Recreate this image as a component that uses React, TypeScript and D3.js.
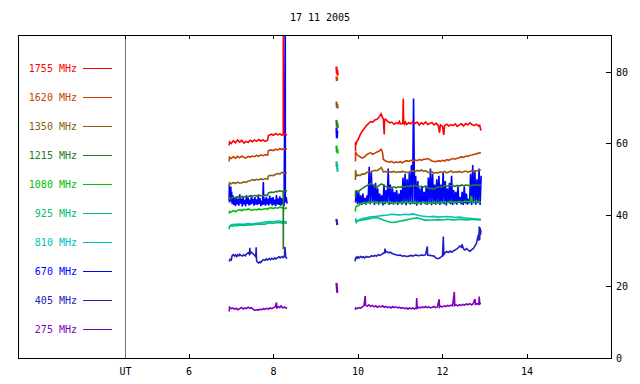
import React from "react";
import * as d3 from "d3";

type P = [number, number];

const title = "17 11 2005";
const freqLabels = ["1755 MHz", "1620 MHz", "1350 MHz", "1215 MHz", "1080 MHz", "925 MHz", "810 MHz", "670 MHz", "405 MHz", "275 MHz"];
const colors = ["#ff0000", "#c84000", "#8a6010", "#287a28", "#00c000", "#00c070", "#00c0c0", "#0000ff", "#2020c0", "#8000c0"];
const xTicks = [6, 8, 10, 12, 14];
const yTicks = [0, 20, 40, 60, 80];

const s1755: P[][] = [
  [[6.95,59.5],[6.96,60.5],[7.0,60.0],[7.05,60.8],[7.1,60.2],[7.15,61.0],[7.2,60.4],[7.25,60.9],[7.3,60.1],[7.35,60.6],[7.4,60.3],[7.45,60.9],[7.5,60.5],[7.55,61.0],[7.6,60.6],[7.65,61.1],[7.7,60.7],[7.75,61.0],[7.8,60.6],[7.86,60.9],[7.88,62.2],[7.95,62.6],[8.0,62.3],[8.05,62.8],[8.1,62.4],[8.15,62.7],[8.2,62.3],[8.23,62.5],[8.232,95],[8.235,62.5],[8.28,62.6],[8.32,62.4]],
  [[9.49,81.5],[9.50,79.5],[9.51,80.5],[9.52,79.0]],
  [[9.94,57.8],[9.942,60.5],[9.96,60.0],[9.98,60.8],[10.0,61.0],[10.05,62.4],[10.1,63.5],[10.15,64.2],[10.2,65.0],[10.25,65.6],[10.3,66.1],[10.35,66.0],[10.4,66.6],[10.45,66.8],[10.5,67.4],[10.55,68.3],[10.58,67.2],[10.6,67.0],[10.62,62.5],[10.63,66.5],[10.65,66.8],[10.7,66.2],[10.75,65.8],[10.8,66.0],[10.85,65.4],[10.9,65.8],[10.95,65.6],[10.98,66.2],[11.0,65.5],[11.06,65.6],[11.072,72.6],[11.08,65.8],[11.1,65.4],[11.12,66.0],[11.15,65.3],[11.2,65.8],[11.25,65.5],[11.3,66.2],[11.35,65.6],[11.4,66.0],[11.45,65.2],[11.5,65.8],[11.55,65.4],[11.6,66.0],[11.65,65.3],[11.7,65.6],[11.75,65.9],[11.8,65.2],[11.85,65.7],[11.9,65.0],[11.93,63.0],[11.95,65.2],[12.0,64.8],[12.03,62.4],[12.05,65.0],[12.1,65.4],[12.15,64.9],[12.2,65.3],[12.25,65.0],[12.3,65.5],[12.35,64.8],[12.4,65.2],[12.45,65.5],[12.5,64.9],[12.55,65.6],[12.6,65.2],[12.65,65.8],[12.7,65.3],[12.75,65.0],[12.8,65.4],[12.85,64.9],[12.88,65.1],[12.91,63.6]],
];

const s1620: P[][] = [
  [[6.95,55.0],[6.96,56.2],[7.0,55.8],[7.05,56.3],[7.1,55.9],[7.15,56.4],[7.2,56.0],[7.25,56.5],[7.3,56.1],[7.35,56.0],[7.4,56.4],[7.45,56.2],[7.5,56.5],[7.55,56.3],[7.6,56.7],[7.65,56.4],[7.7,56.8],[7.75,56.6],[7.8,56.9],[7.86,56.7],[7.88,58.0],[7.95,58.2],[8.0,58.0],[8.05,58.4],[8.1,58.2],[8.15,58.6],[8.2,58.3],[8.25,58.6],[8.32,58.5]],
  [[9.49,78.8],[9.50,77.5],[9.51,78.5]],
  [[9.94,55.0],[9.942,57.7],[9.96,57.2],[10.0,56.6],[10.05,56.3],[10.1,55.9],[10.15,56.2],[10.2,56.8],[10.25,57.2],[10.3,57.4],[10.35,57.0],[10.4,57.3],[10.45,57.6],[10.5,57.9],[10.55,58.4],[10.58,57.5],[10.6,55.6],[10.65,55.1],[10.7,54.9],[10.75,54.8],[10.8,55.0],[10.85,54.6],[10.9,54.8],[10.95,54.7],[11.0,54.9],[11.05,54.6],[11.1,55.0],[11.15,55.2],[11.2,55.0],[11.25,55.3],[11.3,55.1],[11.35,55.4],[11.4,55.2],[11.45,55.5],[11.5,55.3],[11.55,55.6],[11.6,55.6],[11.65,55.8],[11.7,55.5],[11.75,55.1],[11.8,55.0],[11.85,54.9],[11.9,55.2],[11.95,55.0],[12.0,55.3],[12.05,55.1],[12.1,55.5],[12.15,55.3],[12.2,55.6],[12.25,55.8],[12.3,55.6],[12.35,55.9],[12.4,56.0],[12.45,56.3],[12.5,56.1],[12.55,56.5],[12.6,56.4],[12.65,56.7],[12.7,56.8],[12.75,57.0],[12.8,57.1],[12.85,57.3],[12.91,57.4]],
];

const s1350: P[][] = [
  [[6.95,48.0],[6.96,49.0],[7.0,48.7],[7.05,49.1],[7.1,48.8],[7.15,49.2],[7.2,48.9],[7.25,49.0],[7.3,49.3],[7.35,49.1],[7.4,49.5],[7.45,49.6],[7.5,49.9],[7.55,49.7],[7.6,50.0],[7.65,49.8],[7.7,50.1],[7.75,49.9],[7.8,50.2],[7.86,50.0],[7.88,50.9],[7.95,51.1],[8.0,51.0],[8.05,51.4],[8.1,51.6],[8.15,51.5],[8.2,51.9],[8.25,51.7],[8.32,51.8]],
  [[9.49,71.7],[9.50,70.0],[9.51,71.0],[9.52,69.8]],
  [[9.94,49.8],[9.942,52.6],[9.96,50.9],[10.0,51.2],[10.05,51.0],[10.1,51.5],[10.15,51.4],[10.2,51.8],[10.25,52.1],[10.3,52.0],[10.35,52.3],[10.4,52.5],[10.45,52.4],[10.5,52.8],[10.55,53.3],[10.58,52.6],[10.6,52.0],[10.65,52.2],[10.7,51.9],[10.75,52.1],[10.8,52.0],[10.85,52.2],[10.9,51.9],[10.95,52.1],[11.0,52.0],[11.05,52.2],[11.1,52.1],[11.15,51.9],[11.2,52.0],[11.25,52.2],[11.3,52.4],[11.35,52.1],[11.4,52.5],[11.45,52.3],[11.5,52.6],[11.55,52.2],[11.6,52.4],[11.65,52.0],[11.7,51.8],[11.75,52.1],[11.8,51.7],[11.85,51.9],[11.9,51.8],[11.95,52.1],[12.0,51.9],[12.05,52.2],[12.1,51.8],[12.15,52.0],[12.2,52.3],[12.25,51.9],[12.3,52.1],[12.35,52.0],[12.4,52.2],[12.45,51.9],[12.5,52.1],[12.55,52.3],[12.6,52.0],[12.65,52.2],[12.7,52.4],[12.75,52.1],[12.8,52.3],[12.85,52.5],[12.91,52.6]],
];

const s1215: P[][] = [
  [[6.95,44.2],[6.96,44.9],[7.0,44.6],[7.05,45.0],[7.1,44.7],[7.15,45.1],[7.2,44.8],[7.25,45.2],[7.3,45.0],[7.35,45.3],[7.4,45.1],[7.45,45.4],[7.5,45.2],[7.55,45.5],[7.6,45.3],[7.65,45.6],[7.7,45.4],[7.75,45.3],[7.8,45.6],[7.86,45.5],[7.88,46.2],[7.95,46.4],[8.0,46.3],[8.05,46.6],[8.1,46.5],[8.15,46.8],[8.2,46.6],[8.23,46.7],[8.232,30.4],[8.235,46.6],[8.28,46.8],[8.32,46.7]],
  [[9.49,66.6],[9.50,64.5],[9.51,65.8],[9.52,64.3]],
  [[9.94,45.0],[9.942,46.5],[9.96,46.8],[10.0,46.4],[10.05,47.0],[10.1,47.4],[10.15,47.8],[10.2,48.2],[10.25,48.4],[10.3,48.8],[10.35,48.5],[10.4,48.0],[10.45,47.8],[10.5,48.3],[10.55,48.7],[10.6,48.4],[10.65,48.0],[10.7,47.8],[10.75,47.5],[10.8,47.7],[10.85,47.9],[10.9,47.6],[10.95,47.9],[11.0,47.7],[11.05,48.0],[11.1,47.8],[11.15,48.1],[11.2,47.9],[11.25,48.2],[11.3,48.0],[11.35,48.3],[11.4,48.1],[11.45,47.9],[11.5,48.0],[11.55,47.8],[11.6,48.1],[11.65,47.6],[11.7,47.3],[11.75,47.5],[11.8,47.2],[11.85,47.6],[11.9,47.9],[11.95,47.7],[12.0,48.0],[12.05,48.2],[12.1,48.0],[12.15,48.3],[12.2,48.1],[12.25,48.2],[12.3,48.0],[12.35,48.3],[12.4,48.1],[12.45,48.4],[12.5,48.2],[12.55,48.4],[12.6,48.3],[12.65,48.1],[12.7,48.4],[12.75,48.3],[12.8,48.5],[12.85,48.3],[12.91,48.4]],
];

const s1080: P[][] = [
  [[6.95,40.4],[6.96,41.0],[7.0,40.8],[7.05,41.2],[7.1,40.9],[7.15,41.3],[7.2,41.5],[7.25,41.2],[7.3,41.6],[7.35,41.4],[7.4,41.7],[7.45,41.5],[7.5,41.3],[7.55,41.6],[7.6,41.4],[7.65,41.7],[7.7,41.5],[7.75,41.6],[7.8,41.8],[7.86,41.6],[7.88,41.9],[7.95,42.0],[8.0,41.8],[8.05,42.1],[8.1,41.9],[8.15,42.2],[8.2,42.0],[8.25,41.8],[8.32,42.0]],
  [[9.49,59.4],[9.50,57.5],[9.51,58.5],[9.52,57.2]],
  [[9.94,41.0],[9.942,41.9],[9.96,42.4],[10.0,42.6],[10.05,43.0],[10.1,43.3],[10.15,43.5],[10.2,43.4],[10.25,43.6],[10.3,43.5],[10.35,43.7],[10.4,43.5],[10.45,43.6],[10.5,43.4],[10.55,43.6],[10.6,43.5],[10.65,43.7],[10.7,43.4],[10.75,43.6],[10.8,43.5],[10.85,43.3],[10.9,43.6],[10.95,43.5],[11.0,43.4],[11.05,43.6],[11.1,43.5],[11.15,43.7],[11.2,43.4],[11.25,43.6],[11.3,43.5],[11.35,43.6],[11.4,43.3],[11.45,43.5],[11.5,43.4],[11.55,43.6],[11.6,43.5],[11.65,43.3],[11.7,43.5],[11.75,43.4],[11.8,43.6],[11.85,43.5],[11.9,43.3],[11.95,43.6],[12.0,43.5],[12.05,43.7],[12.1,43.5],[12.15,43.6],[12.2,43.8],[12.25,43.6],[12.3,43.7],[12.35,43.5],[12.4,43.8],[12.45,43.6],[12.5,43.7],[12.55,43.9],[12.6,43.7],[12.65,43.8],[12.68,45.3],[12.7,43.7],[12.75,43.6],[12.8,43.9],[12.85,43.7],[12.91,43.5]],
];

const s925: P[][] = [
  [[6.95,36.0],[6.96,36.8],[7.0,37.0],[7.05,36.9],[7.1,37.1],[7.15,37.0],[7.2,37.2],[7.3,37.1],[7.4,37.3],[7.5,37.2],[7.6,37.4],[7.7,37.5],[7.8,37.4],[7.9,37.8],[8.0,37.7],[8.1,37.9],[8.2,37.8],[8.32,37.7]],
  [[9.49,55.0],[9.50,53.5],[9.51,54.3]],
  [[9.94,39.1],[9.96,38.2],[10.0,38.4],[10.1,38.6],[10.2,38.8],[10.3,39.0],[10.4,39.3],[10.5,39.1],[10.6,38.6],[10.7,38.2],[10.8,37.9],[10.9,38.0],[11.0,38.3],[11.1,38.5],[11.2,38.8],[11.3,39.0],[11.4,39.2],[11.5,38.9],[11.6,38.5],[11.7,38.6],[11.8,38.6],[11.9,38.7],[12.0,38.6],[12.1,38.8],[12.2,38.7],[12.3,38.6],[12.4,38.8],[12.5,38.7],[12.6,38.6],[12.7,38.8],[12.8,38.7],[12.91,38.6]],
];

const s810: P[][] = [
  [[6.95,36.5],[7.0,37.3],[7.1,37.4],[7.2,37.5],[7.3,37.4],[7.4,37.6],[7.5,37.5],[7.6,37.7],[7.7,37.8],[7.8,38.0],[7.9,38.2],[8.0,38.1],[8.1,38.3],[8.2,38.2],[8.32,38.1]],
  [[9.50,54.0],[9.51,53.0],[9.52,52.1]],
  [[9.94,38.6],[9.96,37.9],[10.0,38.5],[10.1,39.0],[10.2,39.2],[10.3,39.5],[10.4,39.6],[10.5,39.7],[10.6,39.9],[10.7,40.0],[10.8,40.2],[10.9,40.1],[11.0,40.0],[11.1,40.2],[11.2,40.1],[11.3,40.3],[11.4,40.0],[11.5,39.7],[11.6,39.6],[11.7,39.5],[11.8,39.6],[11.9,39.4],[12.0,39.5],[12.1,39.6],[12.2,39.5],[12.3,39.3],[12.4,39.4],[12.5,39.2],[12.6,39.1],[12.7,39.0],[12.8,38.9],[12.91,38.8]],
];

const s670seg1: P[] = [[6.95,44.0],[6.955,48.5],[6.96,43.5],[6.97,47.8],[6.98,44.2],[6.99,48.0],[7.0,43.8],[7.01,46.5],[7.02,43.0],[7.04,45.5],[7.06,42.8],[7.08,44.8],[7.1,42.5],[7.12,45.2],[7.14,43.0],[7.16,44.5],[7.18,42.6],[7.2,45.8],[7.22,43.2],[7.24,44.6],[7.26,42.4],[7.28,45.0],[7.3,43.0],[7.32,44.2],[7.34,42.5],[7.36,45.5],[7.38,43.1],[7.4,44.8],[7.42,42.7],[7.44,44.3],[7.46,42.9],[7.48,45.6],[7.5,43.2],[7.52,44.5],[7.54,42.6],[7.56,45.0],[7.58,43.0],[7.6,44.4],[7.62,42.8],[7.64,45.3],[7.66,43.1],[7.68,44.7],[7.70,42.5],[7.72,44.0],[7.74,42.8],[7.76,49.2],[7.77,43.0],[7.79,44.6],[7.81,42.6],[7.83,45.1],[7.85,43.0],[7.87,44.5],[7.89,42.7],[7.91,45.4],[7.93,43.2],[7.95,44.8],[7.97,42.6],[7.99,45.0],[8.01,42.9],[8.03,44.3],[8.05,42.5],[8.07,45.6],[8.09,43.0],[8.11,44.6],[8.13,42.8],[8.15,45.2],[8.17,42.6],[8.19,44.7],[8.21,43.0],[8.23,44.5],[8.25,42.4],[8.279,95],[8.28,43.5],[8.3,45.0],[8.32,43.2]];
const s670seg2: P[] = [[9.49,64.3],[9.50,61.5],[9.51,63.5]];
// segment 3 sampled every 0.025 h starting at 9.94 h
const s670seg3Start = 9.94;
const s670seg3Step = 0.025;
const s670seg3Values = [
  43.5,47.0,43.0,46.5,43.2,45.5,42.8,46.0,43.1,44.8,
  42.9,45.5,43.3,53.5,43.0,52.0,43.4,48.5,42.8,49.0,
  43.2,47.5,42.9,46.0,43.3,45.5,42.7,48.5,43.0,47.0,
  43.4,53.0,42.8,48.5,43.1,47.5,42.9,46.5,43.2,47.0,
  42.8,46.0,43.3,47.0,42.9,50.5,43.2,51.5,42.7,50.0,
  43.3,52.0,42.9,54.0,43.1,72.6,43.0,51.0,42.6,49.5,
  43.2,47.5,42.8,48.0,43.3,46.5,43.0,48.0,42.8,50.5,
  43.2,53.0,42.7,51.5,43.1,48.5,42.9,50.0,43.3,51.0,
  42.8,48.5,43.2,52.0,43.0,49.5,42.7,47.5,43.3,49.0,
  43.0,51.0,42.8,47.0,43.2,46.5,42.9,48.0,43.4,45.0,
  43.0,46.5,42.8,48.0,43.2,46.0,42.9,44.5,43.3,51.5,
  42.8,54.0,43.2,52.5,42.9,50.0,43.3,53.0,42.8,51.0,
];

const s405: P[][] = [
  [[6.95,27.0],[6.97,27.6],[7.0,27.4],[7.02,28.6],[7.05,28.9],[7.08,28.5],[7.1,28.8],[7.13,28.4],[7.15,28.9],[7.18,28.6],[7.2,29.0],[7.23,28.7],[7.26,28.5],[7.3,28.9],[7.33,28.6],[7.36,29.1],[7.4,29.4],[7.43,29.0],[7.44,30.8],[7.45,29.2],[7.48,29.6],[7.5,29.3],[7.53,29.0],[7.56,28.6],[7.58,28.3],[7.59,31.0],[7.6,27.2],[7.62,26.8],[7.65,26.6],[7.68,26.9],[7.7,26.7],[7.73,27.2],[7.76,27.5],[7.8,27.3],[7.83,27.7],[7.86,27.4],[7.9,27.8],[7.93,27.5],[7.96,27.9],[8.0,27.6],[8.03,28.0],[8.06,27.7],[8.1,28.1],[8.13,28.3],[8.16,28.0],[8.2,28.4],[8.23,28.1],[8.26,28.5],[8.27,31.1],[8.29,28.2],[8.32,27.8]],
  [[9.49,38.9],[9.50,38.0],[9.51,37.2]],
  [[9.93,27.0],[9.94,27.8],[9.96,28.2],[9.98,27.9],[10.0,28.3],[10.03,28.0],[10.06,28.4],[10.1,28.1],[10.13,28.3],[10.16,28.0],[10.2,28.4],[10.24,28.2],[10.28,28.3],[10.32,28.6],[10.36,28.4],[10.4,28.7],[10.44,28.5],[10.48,28.9],[10.52,28.7],[10.56,29.0],[10.6,29.3],[10.63,29.6],[10.64,30.6],[10.65,29.5],[10.68,29.8],[10.72,29.4],[10.76,29.6],[10.8,29.3],[10.85,29.0],[10.9,28.9],[10.95,28.7],[11.0,28.8],[11.05,28.5],[11.1,28.6],[11.15,28.4],[11.2,28.5],[11.25,28.7],[11.3,28.5],[11.35,28.8],[11.4,28.7],[11.45,28.6],[11.5,28.8],[11.55,28.7],[11.6,28.9],[11.64,31.2],[11.65,28.8],[11.7,28.7],[11.75,28.6],[11.8,28.5],[11.84,28.0],[11.88,27.8],[11.92,27.9],[11.96,28.2],[12.0,28.6],[12.02,34.0],[12.03,28.9],[12.06,29.4],[12.1,29.8],[12.14,29.5],[12.18,29.9],[12.22,29.6],[12.26,30.0],[12.3,30.2],[12.34,30.5],[12.38,30.9],[12.41,31.3],[12.45,31.0],[12.46,31.8],[12.5,30.5],[12.53,30.2],[12.57,30.6],[12.61,30.2],[12.65,29.8],[12.69,30.3],[12.73,30.6],[12.76,31.2],[12.8,32.0],[12.83,33.5],[12.85,34.5],[12.86,32.8],[12.87,36.8],[12.88,33.0],[12.89,36.5],[12.9,34.5],[12.91,35.8]],
];

const s275: P[][] = [
  [[6.95,13.0],[6.96,14.2],[7.0,13.8],[7.04,14.0],[7.08,13.6],[7.12,13.9],[7.16,13.5],[7.2,13.8],[7.24,14.1],[7.28,13.7],[7.32,14.0],[7.36,13.8],[7.4,14.2],[7.44,13.9],[7.48,14.1],[7.52,13.6],[7.56,13.3],[7.6,13.5],[7.64,13.4],[7.68,13.6],[7.72,13.5],[7.76,13.8],[7.8,13.6],[7.84,13.9],[7.88,13.7],[7.92,14.0],[7.96,13.8],[8.0,14.1],[8.04,14.3],[8.07,15.5],[8.08,14.0],[8.12,14.4],[8.15,14.1],[8.18,14.6],[8.22,14.0],[8.26,14.3],[8.3,13.9],[8.32,14.1]],
  [[9.49,21.0],[9.50,19.5],[9.51,18.2]],
  [[9.93,13.5],[9.95,14.0],[9.98,13.8],[10.02,14.1],[10.06,13.9],[10.1,14.3],[10.14,14.6],[10.17,17.3],[10.18,14.8],[10.22,14.5],[10.26,14.9],[10.3,14.4],[10.34,14.7],[10.38,14.3],[10.42,14.6],[10.46,14.2],[10.5,14.5],[10.54,14.3],[10.58,14.6],[10.62,14.2],[10.66,14.4],[10.7,14.1],[10.74,14.3],[10.78,14.0],[10.82,14.4],[10.86,14.1],[10.9,14.3],[10.94,14.0],[10.98,14.2],[11.02,13.9],[11.06,14.1],[11.1,13.8],[11.14,14.0],[11.18,13.7],[11.22,14.0],[11.26,13.8],[11.3,14.0],[11.34,13.7],[11.38,14.1],[11.39,16.8],[11.4,13.9],[11.44,14.2],[11.48,14.0],[11.52,14.3],[11.56,14.1],[11.6,14.4],[11.64,14.1],[11.68,14.3],[11.72,14.0],[11.76,14.2],[11.8,14.4],[11.84,14.1],[11.88,14.3],[11.92,16.4],[11.93,14.2],[11.96,14.5],[12.0,14.3],[12.04,14.6],[12.08,14.4],[12.12,14.7],[12.16,14.5],[12.2,14.8],[12.24,14.6],[12.28,18.5],[12.29,14.7],[12.32,14.9],[12.36,14.6],[12.4,14.9],[12.44,14.7],[12.48,15.0],[12.52,14.8],[12.56,15.1],[12.6,14.9],[12.64,15.2],[12.68,14.9],[12.72,15.1],[12.77,16.5],[12.78,15.0],[12.82,15.2],[12.86,15.0],[12.87,17.2],[12.88,15.1],[12.91,15.3]],
];

const W = 640, H = 384;
const L = 18, R = 611, T = 35, B = 358;
const UT_HOUR = 4.5;

export default function App() {
  const x = d3.scaleLinear().domain([2, 16]).range([20, 611.5]);
  const y = d3.scaleLinear().domain([0, 90]).range([B, B - 90 * 3.575]);
  const line = d3.line<P>().x(d => x(d[0])).y(d => y(d[1]));

  const s670seg3: P[] = s670seg3Values.map((v, i) => [s670seg3Start + i * s670seg3Step, v] as P);
  const s670: P[][] = [s670seg1, s670seg2, s670seg3];
  const series: P[][][] = [s1755, s1620, s1350, s1215, s1080, s925, s810, s670, s405, s275];
  // drawing order: blue noise underneath, the smoother channels above it
  const order = [7, 9, 8, 6, 5, 4, 3, 2, 1, 0];

  const font = "'DejaVu Sans Mono', monospace";
  const legendY = (i: number) => 68 + i * 29.1;

  return (
    <svg width={W} height={H} style={{ position: "absolute", left: 0, top: 0, background: "#fff" }} fontFamily={font}>
      <defs>
        <clipPath id="plot">
          <rect x={L} y={T} width={R - L} height={B - T} />
        </clipPath>
      </defs>
      <rect x={0} y={0} width={W} height={H} fill="#fff" />
      <text x={320} y={21} fontSize={10} textAnchor="middle" fill="#000">{title}</text>

      <line x1={x(UT_HOUR)} x2={x(UT_HOUR)} y1={T} y2={B} stroke="#777" strokeWidth={1} shapeRendering="crispEdges" />

      <g clipPath="url(#plot)" fill="none">
        {order.map(si => (
          <g key={si} stroke={colors[si]} strokeWidth={1.6} strokeLinejoin="miter">
            {series[si].map((seg, k) => <path key={k} d={line(seg) || ""} strokeWidth={k === 1 ? 2.2 : 1.6} />)}
          </g>
        ))}
      </g>

      {freqLabels.map((lab, i) => (
        <g key={lab}>
          <text x={77} y={legendY(i) + 3.5} fontSize={10} textAnchor="end" fill={colors[i]}>{lab}</text>
          <line x1={83} x2={112} y1={legendY(i)} y2={legendY(i)} stroke={colors[i]} strokeWidth={1} shapeRendering="crispEdges" />
        </g>
      ))}

      <rect x={L} y={T} width={R - L} height={B - T} fill="none" stroke="#000" strokeWidth={1} shapeRendering="crispEdges" />

      {xTicks.map(t => (
        <g key={t}>
          <line x1={x(t)} x2={x(t)} y1={B} y2={B - 4} stroke="#000" shapeRendering="crispEdges" />
          <line x1={x(t)} x2={x(t)} y1={T} y2={T + 4} stroke="#000" shapeRendering="crispEdges" />
          <text x={x(t)} y={B + 17} fontSize={10} textAnchor="middle" fill="#000">{t}</text>
        </g>
      ))}
      <line x1={x(UT_HOUR)} x2={x(UT_HOUR)} y1={T} y2={T + 4} stroke="#000" shapeRendering="crispEdges" />
      <text x={x(UT_HOUR)} y={B + 17} fontSize={10} textAnchor="middle" fill="#000">UT</text>

      {yTicks.map(v => (
        <g key={v}>
          {v > 0 && <line x1={R} x2={R - 5} y1={y(v)} y2={y(v)} stroke="#000" shapeRendering="crispEdges" />}
          <text x={616} y={y(v) + 3.5} fontSize={10} textAnchor="start" fill="#000">{v}</text>
        </g>
      ))}
    </svg>
  );
}
